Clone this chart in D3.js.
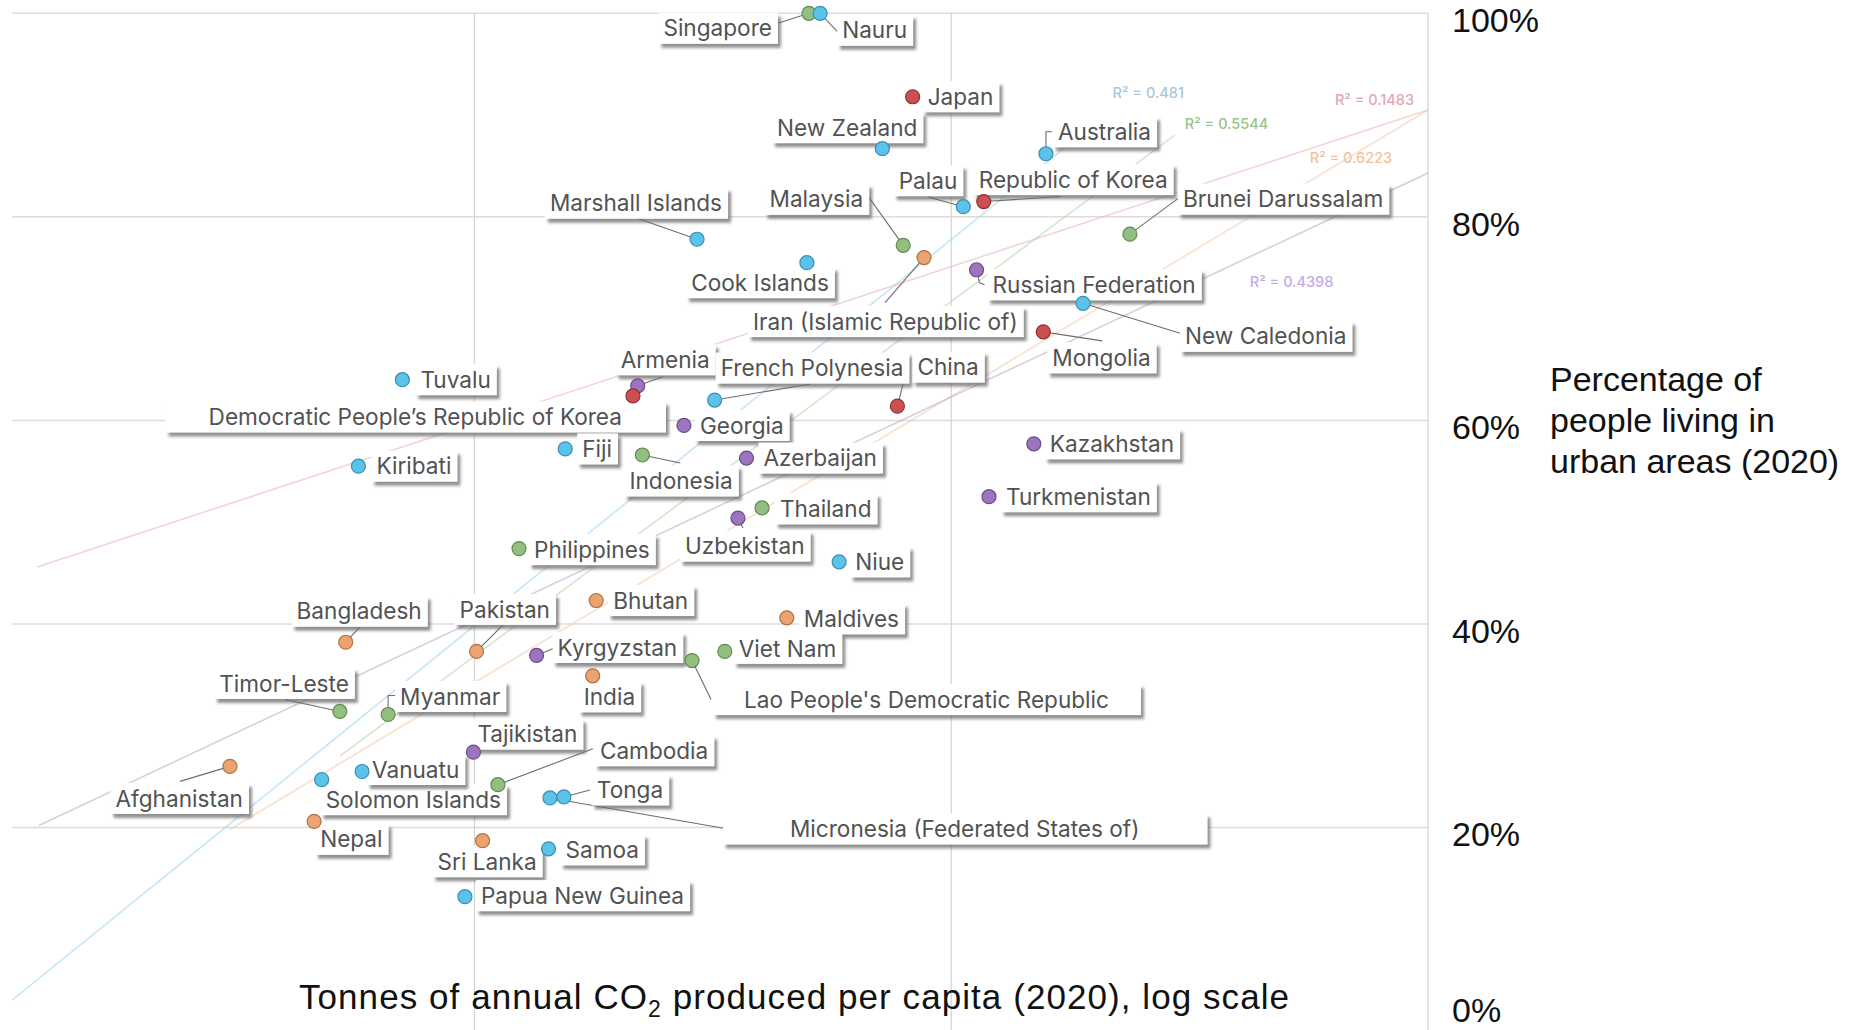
<!DOCTYPE html>
<html>
<head>
<meta charset="utf-8">
<script src="https://cdn.jsdelivr.net/npm/d3@7/dist/d3.min.js"></script>
<style>
  body { margin: 0; background: #fff; }
  svg { display: block; }
</style>
</head>
<body>
<svg id="chart" width="1860" height="1030"></svg>
<script>
// ---- data ----
var names = ["Singapore", "Nauru", "Japan", "New Zealand", "Marshall Islands", "Cook Islands",
  "Malaysia", "Iran (Islamic Republic of)", "Palau", "Republic of Korea", "Australia",
  "Brunei Darussalam", "Russian Federation", "New Caledonia", "Mongolia", "Armenia",
  "Democratic People\u2019s Republic of Korea", "French Polynesia", "China", "Georgia", "Fiji",
  "Indonesia", "Azerbaijan", "Thailand", "Uzbekistan", "Philippines", "Niue", "Bhutan",
  "Maldives", "Pakistan", "Kyrgyzstan", "Viet Nam", "Lao People's Democratic Republic", "India",
  "Tuvalu", "Kiribati", "Bangladesh", "Timor-Leste", "Myanmar", "Afghanistan",
  "Solomon Islands", "Vanuatu", "Nepal", "Tajikistan", "Sri Lanka", "Papua New Guinea",
  "Cambodia", "Tonga", "Micronesia (Federated States of)", "Samoa", "Kazakhstan", "Turkmenistan"];

var co2 = [5.03, 5.31, 8.30, 7.17, 2.93, 4.98,
  7.93, 8.77, 10.6, 11.7, 15.8,
  23.7, 11.3, 18.9, 15.6, 2.20,
  2.15, 3.19, 7.71, 2.75, 1.55,
  2.25, 3.72, 4.01, 3.57, 1.24, 5.82, 1.80,
  4.52, 1.01, 1.35, 3.35, 2.86, 1.77,
  0.706, 0.571, 0.537, 0.522, 0.659, 0.307,
  0.478, 0.581, 0.461, 0.995, 1.04, 0.955,
  1.12, 1.54, 1.44, 1.43, 14.9, 12.0];

var urban = [100, 100, 91.8, 86.7, 77.8, 75.5,
  77.2, 76.0, 81.0, 81.5, 86.2,
  78.3, 74.8, 71.5, 68.7, 63.4,
  62.4, 62.0, 61.4, 59.5, 57.2,
  56.6, 56.3, 51.4, 50.4, 47.4, 46.1, 42.3,
  40.6, 37.3, 36.9, 37.3, 36.4, 34.9,
  64.0, 55.5, 38.2, 31.4, 31.1, 26.0,
  24.7, 25.5, 20.6, 27.4, 18.7, 13.2,
  24.2, 23.0, 22.9, 17.9, 57.7, 52.5];

var group = ["sea", "oce", "eas", "oce", "oce", "oce",
  "sea", "sas", "oce", "eas", "oce",
  "sea", "cas", "oce", "eas", "cas",
  "eas", "oce", "eas", "cas", "oce",
  "sea", "cas", "sea", "cas", "sea", "oce", "sas",
  "sas", "sas", "cas", "sea", "sea", "sas",
  "oce", "oce", "sas", "sea", "sea", "sas",
  "oce", "oce", "sas", "cas", "sas", "oce",
  "sea", "oce", "oce", "oce", "cas", "cas"];

// trend lines (ends)
var trendGroups = ["oce", "sea", "eas", "sas", "cas"];
var trendX0 = [0.107, 0.522, 0.121, 0.307, 0.122];
var trendY0 = [3.0, 27.0, 45.6, 19.8, 20.2];
var trendX1 = [20.5, 29.4, 100, 100, 100];
var trendY1 = [89.6, 88.0, 90.5, 90.5, 84.3];
var trendR2 = ["0.481", "0.5544", "0.1483", "0.6223", "0.4398"];

var yTicks = [0, 20, 40, 60, 80, 100];
var xGrid = [1, 10, 100];

// ---- layout / style ----
var fill = { oce: "#5bc2ea", sea: "#92bf7f", eas: "#cd4f51", sas: "#eba36f", cas: "#9c75be" };
var edge = { oce: "#3b8fb3", sea: "#5f8b52", eas: "#8c3234", sas: "#b07243", cas: "#6b4c8a" };
var trendCol = { oce: "#9fd6ec", sea: "#b9d6a9", eas: "#eab7be", sas: "#f5cba8", cas: "#b9b1c6" };
var r2Col = { oce: "#a9c6df", sea: "#98c488", eas: "#e2a7b1", sas: "#f2c29e", cas: "#c6abe6" };
var r2Pos = [[21.8, 92.2], [30.9, 89.1], [63.8, 91.5], [56.5, 85.8], [42.3, 73.6]];

// label offset from dot: [dx, dy, anchor, leader points, extra box padding]
var lab = {
  "Singapore": [-37, 15, "end", [[-31, 10]]],
  "Nauru": [22, 17, "start", [[17, 18]]],
  "Japan": [15, 0, "start"],
  "New Zealand": [35, -21, "end"],
  "Marshall Islands": [25, -36, "end", [[-60, -21]]],
  "Cook Islands": [22, 20, "end"],
  "Malaysia": [-40, -46, "end", [[-35, -49]]],
  "Iran (Islamic Republic of)": [-171, 64, "start", [[-39, 45]]],
  "Palau": [-6, -26, "end", [[-36, -10]]],
  "Republic of Korea": [-5, -22, "start", [[77, -5]]],
  "Australia": [12, -22, "start", [[0, -22], [6, -22]]],
  "Brunei Darussalam": [53, -35, "start", [[50, -37]]],
  "Russian Federation": [16, 15, "start", [[3, 13], [8, 15]]],
  "New Caledonia": [102, 33, "start", [[97, 30]]],
  "Mongolia": [9, 26, "start", [[59, 9]]],
  "Armenia": [-17, -26, "start", [[25, -9]]],
  "Democratic People\u2019s Republic of Korea": [-11, 21, "end", null, 38],
  "French Polynesia": [6, -32, "start", [[96, -16]]],
  "China": [20, -39, "start", [[10, -39]]],
  "Georgia": [16, 0, "start"],
  "Fiji": [17, 0, "start"],
  "Indonesia": [-13, 26, "start", [[38, 8]]],
  "Azerbaijan": [17, 0, "start"],
  "Thailand": [18, 1, "start"],
  "Uzbekistan": [-53, 28, "start", [[5, 10]]],
  "Philippines": [15, 1, "start"],
  "Niue": [16, 0, "start"],
  "Bhutan": [17, 0, "start"],
  "Maldives": [17, 1, "start"],
  "Pakistan": [-17, -42, "start", [[27, -27]]],
  "Kyrgyzstan": [21, -8, "start", [[19, -8]]],
  "Viet Nam": [14, -3, "start"],
  "Lao People's Democratic Republic": [52, 39, "start", [[19, 39]], 26],
  "India": [-9, 21, "start"],
  "Tuvalu": [18, 0, "start"],
  "Kiribati": [18, 0, "start"],
  "Bangladesh": [76, -31, "end", [[14, -15]]],
  "Timor-Leste": [9, -28, "end", [[-55, -12]]],
  "Myanmar": [12, -18, "start", [[0, -19], [8, -19]]],
  "Afghanistan": [13, 32, "end", [[-50, 15]]],
  "Solomon Islands": [4, 20, "start"],
  "Vanuatu": [10, -2, "start"],
  "Nepal": [6, 18, "start"],
  "Tajikistan": [4, -18, "start"],
  "Sri Lanka": [-45, 21, "start"],
  "Papua New Guinea": [16, -1, "start"],
  "Cambodia": [102, -34, "start", [[95, -36]]],
  "Tonga": [33, -7, "start", [[26, -7]]],
  "Micronesia (Federated States of)": [240, 31, "start", [[178, 31]], 62],
  "Samoa": [17, 1, "start"],
  "Kazakhstan": [16, 0, "start"],
  "Turkmenistan": [17, 0, "start"]
};

var points = names.map(function (n, i) {
  return { name: n, co2: co2[i], urban: urban[i], g: group[i] };
});

var svg = d3.select("#chart");
var x = d3.scaleLog().domain([0.1, 100]).range([-2.3, 1428]);
var y = d3.scaleLinear().domain([0, 100]).range([1031, 13.3]);
var plotLeft = 12;

var defs = svg.append("defs");
var f = defs.append("filter").attr("id", "shadow")
  .attr("x", "-10%").attr("y", "-30%").attr("width", "130%").attr("height", "180%");
f.append("feDropShadow").attr("dx", 3).attr("dy", 4).attr("stdDeviation", 1.6)
  .attr("flood-color", "#6a6a6a").attr("flood-opacity", 0.75);
defs.append("clipPath").attr("id", "plotclip").append("rect")
  .attr("x", plotLeft).attr("y", 0).attr("width", x(100) - plotLeft).attr("height", 1031);

// gridlines
svg.append("g").selectAll("line").data(yTicks).enter().append("line")
  .attr("x1", plotLeft).attr("x2", x(100))
  .attr("y1", function (d) { return y(d); }).attr("y2", function (d) { return y(d); })
  .attr("stroke", "#dcdcdc").attr("stroke-width", 1.5);
svg.append("g").selectAll("line").data(xGrid).enter().append("line")
  .attr("x1", function (d) { return x(d); }).attr("x2", function (d) { return x(d); })
  .attr("y1", y(100)).attr("y2", y(0))
  .attr("stroke", "#d6d6d6").attr("stroke-width", 1.3);

// trend lines
var tl = svg.append("g").attr("clip-path", "url(#plotclip)");
tl.selectAll("line").data(trendGroups).enter().append("line")
  .attr("x1", function (d, i) { return x(trendX0[i]); })
  .attr("y1", function (d, i) { return y(trendY0[i]); })
  .attr("x2", function (d, i) { return x(trendX1[i]); })
  .attr("y2", function (d, i) { return y(trendY1[i]); })
  .attr("stroke", function (d) { return trendCol[d]; })
  .attr("stroke-opacity", 0.6)
  .attr("stroke-width", 1.6);

svg.append("g").selectAll("text").data(trendGroups).enter().append("text")
  .attr("x", function (d, i) { return x(r2Pos[i][0]); })
  .attr("y", function (d, i) { return y(r2Pos[i][1]); })
  .attr("dy", "0.35em")
  .attr("font-family", "Inter, 'Noto Sans', sans-serif")
  .attr("font-size", 14.5).attr("font-weight", 500)
  .attr("fill", function (d) { return r2Col[d]; })
  .text(function (d, i) { return "R\u00b2 = " + trendR2[i]; });

// leader lines
var leaders = svg.append("g");
points.forEach(function (p) {
  var L = lab[p.name];
  if (!L || !L[3]) return;
  var cx = x(p.co2), cy = y(p.urban);
  var pts = [[cx, cy]].concat(L[3].map(function (o) { return [cx + o[0], cy + o[1]]; }));
  leaders.append("path").attr("d", d3.line()(pts))
    .attr("fill", "none").attr("stroke", "#6e6e6e").attr("stroke-width", 1.1);
});

// label boxes + text
var labels = svg.append("g");
points.forEach(function (p) {
  var L = lab[p.name];
  var cx = x(p.co2), cy = y(p.urban);
  var g = labels.append("g");
  var rect = g.append("rect");
  var t = g.append("text")
    .attr("x", cx + L[0]).attr("y", cy + L[1]).attr("dy", "0.36em")
    .attr("text-anchor", L[2])
    .attr("font-family", "Inter, 'Noto Sans', sans-serif")
    .attr("font-size", 22.6).attr("fill", "#525252")
    .text(p.name);
  var bb = t.node().getBBox();
  var pad = L[4] || 0;
  rect.attr("x", bb.x - 5 - pad).attr("y", cy + L[1] - 15.5)
    .attr("width", bb.width + 11 + 2 * pad).attr("height", 31)
    .attr("fill", "#fff").attr("filter", "url(#shadow)");
});

// dots
svg.append("g").selectAll("circle").data(points).enter().append("circle")
  .attr("cx", function (d) { return x(d.co2); })
  .attr("cy", function (d) { return y(d.urban); })
  .attr("r", 7)
  .attr("fill", function (d) { return fill[d.g]; })
  .attr("stroke", function (d) { return edge[d.g]; })
  .attr("stroke-width", 1.2);

// y tick labels (right side)
svg.append("g").selectAll("text").data(yTicks).enter().append("text")
  .attr("x", 1452)
  .attr("y", function (d) { return Math.min(y(d) + 19, 1022); })
  .attr("font-family", "'Liberation Sans', Arial, sans-serif")
  .attr("font-size", 34).attr("fill", "#111")
  .text(function (d) { return d + "%"; });

// axis titles
var yt = svg.append("text")
  .attr("font-family", "'Liberation Sans', Arial, sans-serif")
  .attr("font-size", 34).attr("fill", "#111");
["Percentage of", "people living in", "urban areas (2020)"].forEach(function (s, i) {
  yt.append("tspan").attr("x", 1550).attr("y", 391 + i * 41).text(s);
});

var xt = svg.append("text")
  .attr("x", 299).attr("y", 1009)
  .attr("font-family", "'Liberation Sans', Arial, sans-serif")
  .attr("font-size", 35).attr("fill", "#111")
  .attr("textLength", 990).attr("lengthAdjust", "spacing");
xt.append("tspan").text("Tonnes of annual CO");
xt.append("tspan").attr("font-size", 23).attr("dy", 8).text("2");
xt.append("tspan").attr("dy", -8).text(" produced per capita (2020), log scale");
</script>
</body>
</html>
